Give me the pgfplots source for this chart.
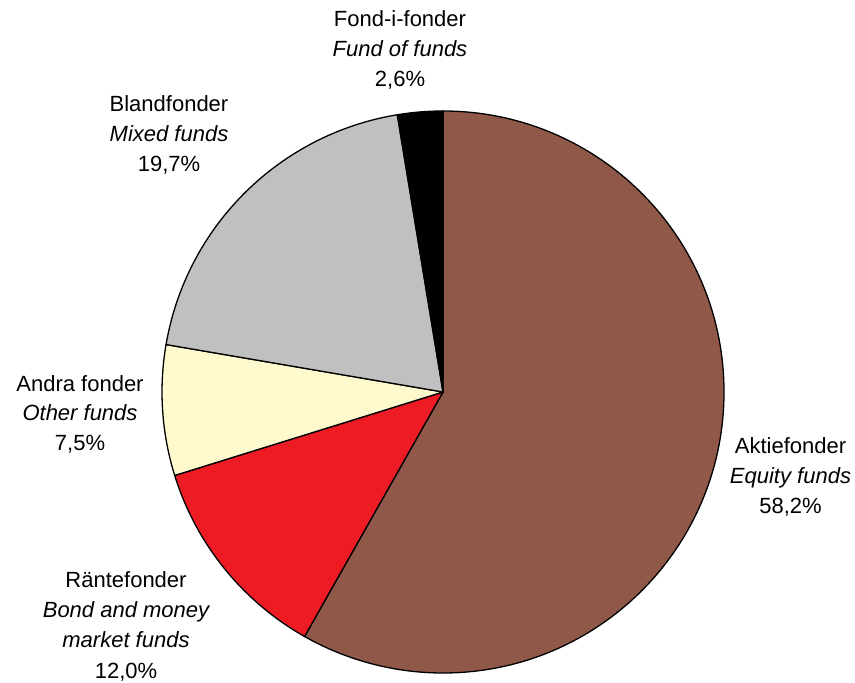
\documentclass[border=0pt]{standalone}
\usepackage{pgfplots}
\pgfplotsset{compat=1.18}
\usepackage{pgfplotstable}
\usepackage{fontspec}
\setmainfont{Liberation Sans}
\definecolor{cAktie}{RGB}{143,88,73}
\definecolor{cRante}{RGB}{237,28,36}
\definecolor{cAndra}{RGB}{255,250,205}
\definecolor{cBland}{RGB}{192,192,192}
\definecolor{cFond}{RGB}{0,0,0}
\pgfplotstableread{
name value
Aktiefonder 58.2
Rantefonder 12.0
Andra 7.5
Blandfonder 19.7
Fondifonder 2.6
}\piedata
\pgfplotstablegetelem{0}{value}\of\piedata \let\vA\pgfplotsretval
\pgfplotstablegetelem{1}{value}\of\piedata \let\vB\pgfplotsretval
\pgfplotstablegetelem{2}{value}\of\piedata \let\vC\pgfplotsretval
\pgfplotstablegetelem{3}{value}\of\piedata \let\vD\pgfplotsretval
\pgfplotstablegetelem{4}{value}\of\piedata \let\vE\pgfplotsretval
\pgfmathsetmacro\aA{90}
\pgfmathsetmacro\aB{\aA-3.6*\vA}
\pgfmathsetmacro\aC{\aB-3.6*\vB}
\pgfmathsetmacro\aD{\aC-3.6*\vC}
\pgfmathsetmacro\aE{\aD-3.6*\vD}
\pgfmathsetmacro\aF{\aE-3.6*\vE}
\begin{document}
\begin{tikzpicture}
\begin{axis}[width=855bp,height=683bp,scale only axis,
  xmin=0,xmax=855,ymin=0,ymax=683,hide axis,clip=false]
\path (rel axis cs:0,0) rectangle (rel axis cs:1,1);
\filldraw[fill=cAktie,draw=black,line width=1.3bp,line join=round] (axis cs:443,291) -- ++(\aA:281bp) arc[start angle=\aA,end angle=\aB,radius=281bp] -- cycle;
\filldraw[fill=cRante,draw=black,line width=1.3bp,line join=round] (axis cs:443,291) -- ++(\aB:281bp) arc[start angle=\aB,end angle=\aC,radius=281bp] -- cycle;
\filldraw[fill=cAndra,draw=black,line width=1.3bp,line join=round] (axis cs:443,291) -- ++(\aC:281bp) arc[start angle=\aC,end angle=\aD,radius=281bp] -- cycle;
\filldraw[fill=cBland,draw=black,line width=1.3bp,line join=round] (axis cs:443,291) -- ++(\aD:281bp) arc[start angle=\aD,end angle=\aE,radius=281bp] -- cycle;
\filldraw[fill=cFond,draw=black,line width=1.3bp,line join=round] (axis cs:443,291) -- ++(\aE:281bp) arc[start angle=\aE,end angle=\aF,radius=281bp] -- cycle;
\tikzset{lab/.style={anchor=base,inner sep=0pt,font=\fontsize{22bp}{30bp}\selectfont}}
% Aktiefonder
\node[lab] at (axis cs:790.5,229) {Aktiefonder};
\node[lab] at (axis cs:790.5,199) {\itshape Equity funds};
\node[lab] at (axis cs:790.5,169) {58,2\%};
% Rantefonder
\node[lab] at (axis cs:126,95) {Räntefonder};
\node[lab] at (axis cs:126,65) {\itshape Bond and money};
\node[lab] at (axis cs:126,35) {\itshape market funds};
\node[lab] at (axis cs:126,5) {12,0\%};
% Andra
\node[lab] at (axis cs:80,291) {Andra fonder};
\node[lab] at (axis cs:80,262) {\itshape Other funds};
\node[lab] at (axis cs:80,232) {7,5\%};
% Bland
\node[lab] at (axis cs:169,571) {Blandfonder};
\node[lab] at (axis cs:169,541) {\itshape Mixed funds};
\node[lab] at (axis cs:169,511) {19,7\%};
% Fond-i-fonder
\node[lab] at (axis cs:400,656) {Fond-i-fonder};
\node[lab] at (axis cs:400,626) {\itshape Fund of funds};
\node[lab] at (axis cs:400,596) {2,6\%};
\end{axis}
\end{tikzpicture}
\end{document}
